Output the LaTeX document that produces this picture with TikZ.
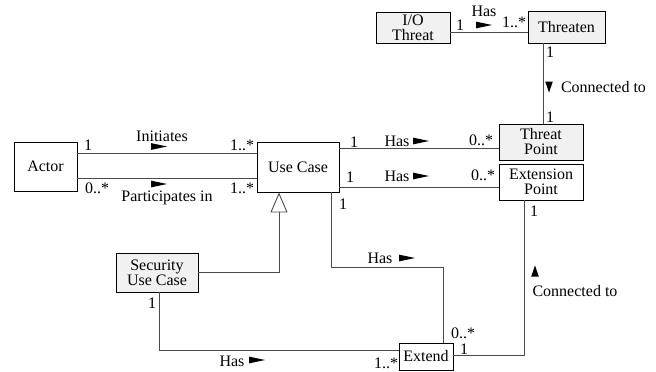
\documentclass[tikz,border=0pt]{standalone}
\usepackage{fontspec}
\setmainfont{Liberation Serif}
\usetikzlibrary{arrows.meta}
\definecolor{boxgray}{HTML}{F1F1F1}
\definecolor{wire}{HTML}{4A4A4A}
\tikzset{
  cls/.style={draw=black, line width=0.9pt, fill=white, inner sep=0pt,
              align=center, minimum width=#1},
  shaded/.style={fill=boxgray},
  conn/.style={draw=wire, line width=0.9pt},
  lbl/.style={inner sep=0pt, anchor=center},
  % reading-direction wedge pointing right
  rtri/.pic={\fill (-8,-3.4) -- (8,0) -- (-8,3.4) -- cycle;},
  % reading-direction wedge pointing down (y axis runs downwards)
  vtri/.pic={\fill (-3.8,-5.5) -- (0,5.5) -- (3.8,-5.5) -- cycle;}
}
\begin{document}
\begin{tikzpicture}[x=1pt, y=-1pt, font=\fontsize{16}{15}\selectfont]
\useasboundingbox (0,0) rectangle (656,372);

% classes
\node[cls=63pt, minimum height=49pt] (actor) at (45.5,166.5) {Actor};
\node[cls=82pt, minimum height=50pt] (uc) at (298,167) {Use Case};
\node[cls=84pt, minimum height=36pt, shaded] (tp) at (541,142) {Threat\\Point};
\node[cls=84pt, minimum height=36pt] (ep) at (541,182) {Extension\\Point};
\node[cls=74pt, minimum height=31pt, shaded] (io) at (413,27.5) {I/O\\Threat};
\node[cls=77pt, minimum height=32pt, shaded] (thr) at (566.5,27) {Threaten};
\node[cls=82pt, minimum height=39pt, shaded] (suc) at (157,272.5) {Security\\Use Case};
\node[cls=54pt, minimum height=27pt] (ext) at (426,356.5) {Extend};

% associations
\draw[conn] (actor.east |- 0,153) -- (uc.west |- 0,153);
\draw[conn] (actor.east |- 0,178) -- (uc.west |- 0,178);
\draw[conn] (io.east |- 0,32) -- (thr.west |- 0,32);
\draw[conn] (thr.south -| 543,0) -- (tp.north -| 543,0);
\draw[conn] (uc.east |- 0,148) -- (tp.west |- 0,148);
\draw[conn] (uc.east |- 0,187) -- (ep.west |- 0,187);
\draw[conn] (uc.south -| 331,0) |- (443,267) -- (ext.north -| 443,0);
\draw[conn] (suc.south -| 159,0) |- (ext.west |- 0,350);
\draw[conn] (ext.east |- 0,355) -| (ep.south -| 524,0);

% generalization
\draw[conn, -{Triangle[open, length=20pt, width=17pt, line width=0.9pt, fill=white]}]
  (suc.east |- 0,272) -| (uc.south -| 279,0);

% Actor -- Use Case labels
\node[lbl] (m1) at (88,145) {1};
\node[lbl] (m2) at (242,145) {1..*};
\node[lbl] (n1) at (162,136) {Initiates};
\pic at (159,146.5) {rtri};
\node[lbl] (m3) at (97,188) {0..*};
\node[lbl] (m4) at (242,188) {1..*};
\node[lbl] (n2) at (167,198) {Participates in};
\pic at (159,184) {rtri};

% Use Case -- Threat Point
\node[lbl] (m5) at (354,142) {1};
\node[lbl] (n3) at (397,141) {Has};
\pic at (421,141) {rtri};
\node[lbl] (m6) at (481,140) {0..*};

% Use Case -- Extension Point
\node[lbl] (m7) at (350,177) {1};
\node[lbl] (n4) at (397,176) {Has};
\pic at (421,176) {rtri};
\node[lbl] (m8) at (483,175) {0..*};
\node[lbl] (m9) at (343,204) {1};

% I/O Threat -- Threaten
\node[lbl] (n5) at (484,11) {Has};
\pic at (484,25) {rtri};
\node[lbl] (m10) at (460,25) {1};
\node[lbl] (m11) at (514,22) {1..*};

% Threaten -- Threat Point
\node[lbl] (m12) at (550,52) {1};
\pic at (549,87) {vtri};
\node[lbl] (n6) at (603.5,87) {Connected to};
\node[lbl] (m13) at (550,117) {1};

% Use Case -- Extend
\node[lbl] (n7) at (380,258) {Has};
\pic at (407,258) {rtri};

% Security Use Case -- Extend
\node[lbl] (m14) at (152,303) {1};
\node[lbl] (n8) at (232,361) {Has};
\pic at (257,360) {rtri};
\node[lbl] (m15) at (386,363) {1..*};

% Extend -- Extension Point
\node[lbl] (m16) at (463,333) {0..*};
\node[lbl] (m17) at (464,349) {1};
\node[lbl] (m18) at (534,211) {1};
\pic[rotate=180] at (535,271) {vtri};
\node[lbl] (n9) at (575,291) {Connected to};
\end{tikzpicture}
\end{document}
